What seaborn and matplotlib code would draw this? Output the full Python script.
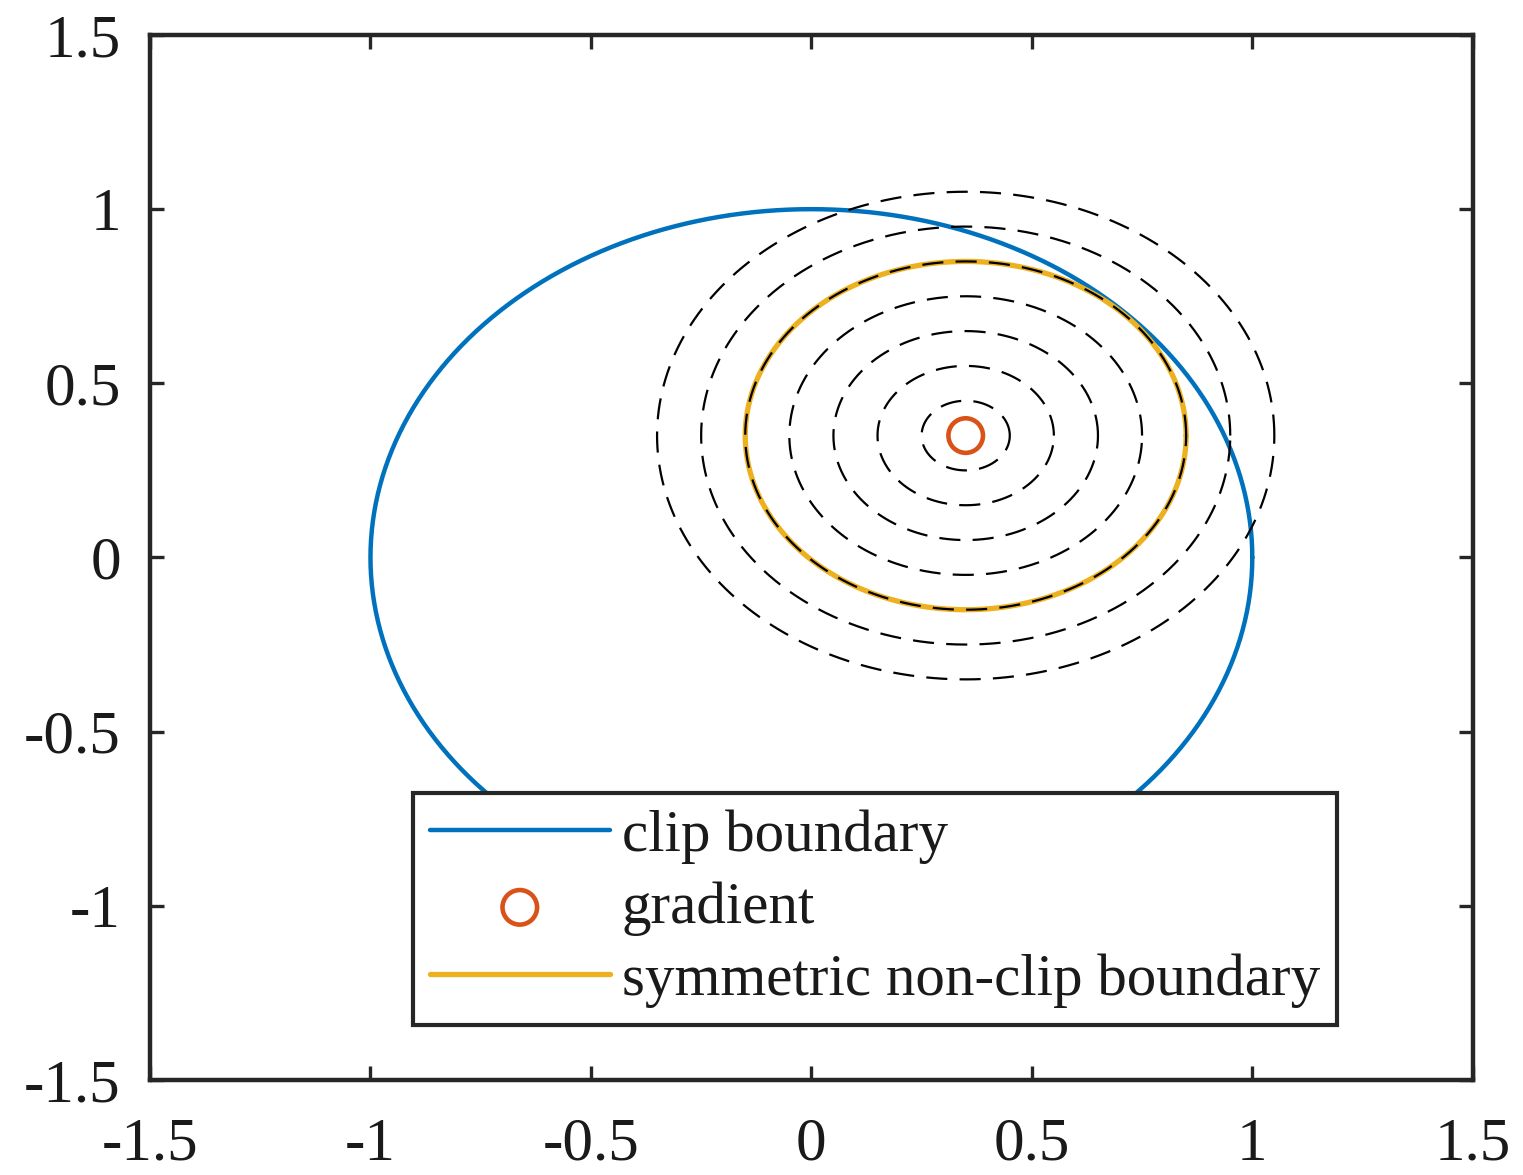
import numpy as np
import pandas as pd
import matplotlib
matplotlib.use("Agg")
import matplotlib.pyplot as plt
import seaborn as sns

# --- data ---
clip_center = [0.0, 0.0]
clip_radius = 1.0
grad_point = [0.35, 0.35]
contour_radii = [0.1, 0.2, 0.3, 0.4, 0.5, 0.6, 0.7]
nonclip_radius = 0.5
ticks = [-1.5, -1, -0.5, 0, 0.5, 1, 1.5]
tick_labels = ["-1.5", "-1", "-0.5", "0", "0.5", "1", "1.5"]
legend_labels = ["clip boundary", "gradient", "symmetric non-clip boundary"]

sns.set_theme(style="white")
plt.rcParams['font.family'] = ['Liberation Serif', 'DejaVu Serif']
plt.rcParams['text.color'] = 'black'

fig = plt.figure(figsize=(15.23, 11.75), dpi=100)
ax = fig.add_axes([0.0985, 0.0809, 0.8685, 0.8893])

theta = np.linspace(0, 2 * np.pi, 721)

def circle_df(c, r):
    return pd.DataFrame({"x": c[0] + r * np.cos(theta), "y": c[1] + r * np.sin(theta)})

# clip boundary
d = circle_df(clip_center, clip_radius)
sns.lineplot(data=d, x="x", y="y", sort=False, estimator=None, color="#0072BD",
             lw=3.2, ax=ax, label=legend_labels[0], zorder=3)

# gradient marker
gd = pd.DataFrame({"x": [grad_point[0]], "y": [grad_point[1]]})
sns.scatterplot(data=gd, x="x", y="y", ax=ax, marker="o", s=620, facecolor="none",
                edgecolor="#D95319", linewidth=3.3, label=legend_labels[1], zorder=5)

# symmetric non-clip boundary
d = circle_df(grad_point, nonclip_radius)
sns.lineplot(data=d, x="x", y="y", sort=False, estimator=None, color="#EDB120",
             lw=3.8, ax=ax, label=legend_labels[2], zorder=3)

# dashed contours
for r in contour_radii:
    d = circle_df(grad_point, r)
    sns.lineplot(data=d, x="x", y="y", sort=False, estimator=None, color="black",
                 lw=1.6, ax=ax, zorder=4, dashes=False, legend=False,
                 linestyle=(0, (9.5, 5.5)))

ax.set_xlim(-1.5, 1.5)
ax.set_ylim(-1.5, 1.5)
ax.set_xticks(ticks)
ax.set_xticklabels(tick_labels)
ax.set_yticks(ticks)
ax.set_yticklabels(tick_labels)
ax.set_xlabel("")
ax.set_ylabel("")
ax.tick_params(direction="in", length=10, width=2.4, labelsize=44,
               top=True, right=True, bottom=True, left=True,
               colors="#262626", labelcolor="#1a1a1a")
ax.tick_params(axis="y", pad=21)
ax.tick_params(axis="x", pad=27)
for s in ax.spines.values():
    s.set_linewidth(3.2)
    s.set_color("#262626")

leg = ax.legend(loc="lower left", bbox_to_anchor=(0.199, 0.053, 0.698, 0.218),
                mode="expand", fontsize=42.5, frameon=True, fancybox=False,
                handlelength=3.05, handletextpad=0.2, borderpad=0.28,
                labelspacing=0.3, borderaxespad=0, markerscale=1.0)
leg.get_frame().set_edgecolor("#262626")
leg.get_frame().set_linewidth(3.0)
leg.get_frame().set_alpha(1)
leg.set_zorder(10)
for t in leg.get_texts():
    t.set_color("#1a1a1a")

fig.savefig("out.png", dpi=100)
